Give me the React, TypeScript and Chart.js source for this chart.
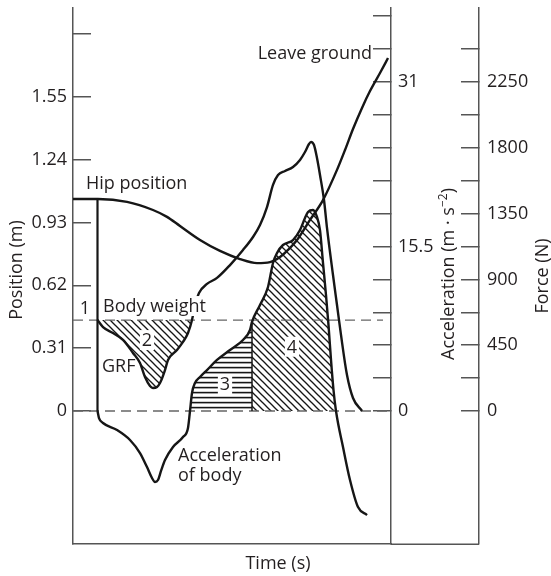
import React, { useEffect, useRef } from "react";
import { Chart, registerables } from "chart.js";
Chart.register(...registerables);

// ---------- data (time in arbitrary units, no ticks on the time axis) ----------
const TIME_MAX = 318;

const HIP_TIME = [0, 25, 54, 80, 94, 107, 127, 147, 167, 184, 197, 207, 215, 224, 237, 250, 264, 272, 280, 289, 297, 307, 315];
const HIP_POSITION = [1.046, 1.046, 1.032, 0.992, 0.958, 0.913, 0.844, 0.79, 0.75, 0.73, 0.735, 0.76, 0.795, 0.844, 0.943, 1.041, 1.19, 1.288, 1.392, 1.496, 1.579, 1.668, 1.742];

const GRF_TIME = [24.5, 30, 40, 50, 60, 67, 72, 77, 80, 84, 87, 92, 95, 104, 110, 115, 119, 122, 126, 134, 144, 157, 170, 180, 187, 194, 200, 205, 212, 220, 227, 232, 236, 238, 241, 244, 247, 251, 254, 260, 264, 268, 274, 280, 289];
const GRF_FORCE = [622, 574, 533, 486, 397, 328, 233, 171, 157, 164, 191, 280, 349, 417, 472, 533, 622, 725, 807, 869, 910, 998, 1101, 1190, 1272, 1395, 1546, 1614, 1641, 1669, 1717, 1771, 1826, 1840, 1819, 1730, 1614, 1443, 1252, 930, 725, 520, 246, 89, 0];

const ACC_TIME = [24.5, 26, 30, 44, 57, 67, 74, 79, 82, 85, 88, 92, 100, 110, 115, 117, 119, 122, 127, 134, 144, 157, 170, 177, 179, 187, 195, 200, 204, 210, 220, 227, 232, 235, 240, 244, 247, 250, 253, 255.5, 258, 260.5, 263, 270, 277, 285, 294];
const ACC_VALUE = [0, -0.66, -1.13, -1.79, -2.73, -3.96, -5.28, -6.31, -6.69, -6.5, -5.65, -4.62, -3.39, -2.45, -1.6, 0, 1.7, 2.64, 3.2, 3.86, 4.81, 5.75, 6.69, 7.63, 8.39, 9.99, 11.68, 13.95, 14.89, 15.64, 16.11, 17.05, 18.19, 18.75, 18.94, 18.28, 17.05, 13.95, 10.93, 8.1, 4.81, 1.98, 0, -3.39, -6.5, -9.05, -9.8];

const BODY_WEIGHT = 622;
const BODY_WEIGHT_END = 310;
const ONSET_TIME = [24.5, 24.5];
const ONSET_POSITION = [1.046, 0];
const AREA2_RANGE = [24.5, 119];
const AREA3_RANGE = [117, 179];
const AREA4_RANGE = [179, 263];
const SPLIT_TIME = [179, 179];
const SPLIT_ACC = [0, 8.39];

const POSITION_TICKS = [0, 0.31, 0.62, 0.93, 1.24, 1.55, 1.86];
const POSITION_LABELS = ["0", "0.31", "0.62", "0.93", "1.24", "1.55", ""];
const ACC_TICKS = [0, 3.1, 6.2, 9.3, 12.4, 15.5, 18.6, 21.7, 24.8, 27.9, 31, 34.1, 37.2];
const ACC_LABELS = ["0", "", "", "", "", "15.5", "", "", "", "", "31", "", ""];
const FORCE_TICKS = [0, 225, 450, 675, 900, 1125, 1350, 1575, 1800, 2025, 2250, 2475];
const FORCE_LABELS = ["0", "", "450", "", "900", "", "1350", "", "1800", "", "2250", ""];

const POSITION_RANGE = [-0.6565, 1.989];
const ACC_RANGE = [-12.53, 37.97];
const FORCE_RANGE = [-909.6, 2756];

const ANNOTATIONS = [
  { text: "Hip position", t: 13, pos: 1.125, align: "left", knockout: false },
  { text: "1", t: 12, pos: 0.511, align: "center", knockout: false },
  { text: "Body weight", t: 30, pos: 0.518, align: "left", knockout: true },
  { text: "2", t: 74, pos: 0.35, align: "center", knockout: true },
  { text: "GRF", t: 29, pos: 0.222, align: "left", knockout: false },
  { text: "3", t: 152, pos: 0.133, align: "center", knockout: true },
  { text: "4", t: 219, pos: 0.317, align: "center", knockout: true },
  { text: "Acceleration", t: 105, pos: -0.217, align: "left", knockout: false },
  { text: "of body", t: 105, pos: -0.316, align: "left", knockout: false },
  { text: "Leave ground", t: 299, pos: 1.767, align: "right", knockout: false },
];

// ---------- styles ----------
const FONT = '"Open Sans", sans-serif';
const FS = 18;
const TEXT = "#231f20";
const AXIS = "#555555";
const INK = "#161616";
const CAP = 6.4;

const zip = (xs: number[], ys: number[]) => xs.map((x, i) => ({ x, y: ys[i] }));
const slice = (xs: number[], ys: number[], r: number[]) =>
  zip(xs, ys).filter((p) => p.x >= r[0] - 1e-9 && p.x <= r[1] + 1e-9);

function diagPattern(ctx: CanvasRenderingContext2D) {
  const s = 7;
  const c = document.createElement("canvas");
  c.width = s;
  c.height = s;
  const g = c.getContext("2d")!;
  g.strokeStyle = INK;
  g.lineWidth = 1.3;
  for (const k of [-1, 0, 1]) {
    g.beginPath();
    g.moveTo(k * s - 1, -1);
    g.lineTo(k * s + s + 1, s + 1);
    g.stroke();
  }
  return ctx.createPattern(c, "repeat")!;
}

function horizPattern(ctx: CanvasRenderingContext2D) {
  const c = document.createElement("canvas");
  c.width = 4;
  c.height = 5;
  const g = c.getContext("2d")!;
  g.fillStyle = INK;
  g.fillRect(0, 1.8, 4, 1.6);
  return ctx.createPattern(c, "repeat")!;
}

const decorPlugin = {
  id: "decor",
  afterDraw(chart: any) {
    const { ctx, chartArea, scales } = chart;
    const x = scales.x, y = scales.y, acc = scales.acc, force = scales.force;
    ctx.save();
    // bottom line continues under the two right axes
    ctx.strokeStyle = AXIS;
    ctx.lineWidth = 1.5;
    ctx.beginPath();
    ctx.moveTo(chartArea.right, chartArea.bottom + 0.25);
    ctx.lineTo(force.left, chartArea.bottom + 0.25);
    ctx.stroke();

    ctx.font = `${FS}px ${FONT}`;
    ctx.textBaseline = "alphabetic";
    ctx.textAlign = "left";
    for (const a of ANNOTATIONS) {
      const px = x.getPixelForValue(a.t);
      const py = y.getPixelForValue(a.pos);
      const w = ctx.measureText(a.text).width;
      const left = a.align === "left" ? px : a.align === "right" ? px - w : px - w / 2;
      if (a.knockout) {
        ctx.fillStyle = "#ffffff";
        ctx.fillRect(left - 2, py - 10, w + 4, 20);
      }
      ctx.fillStyle = TEXT;
      ctx.fillText(a.text, left, py + CAP);
    }

    const midY = (chartArea.top + chartArea.bottom) / 2;
    const vtext = (cx: number, cy: number, parts: { s: string; size: number; dy: number }[]) => {
      ctx.save();
      ctx.translate(cx, cy);
      ctx.rotate(-Math.PI / 2);
      let total = 0;
      const widths = parts.map((p) => {
        ctx.font = `${p.size}px ${FONT}`;
        const w = ctx.measureText(p.s).width;
        total += w;
        return w;
      });
      let cur = -total / 2;
      parts.forEach((p, i) => {
        ctx.font = `${p.size}px ${FONT}`;
        ctx.fillStyle = TEXT;
        ctx.fillText(p.s, cur, CAP + p.dy);
        cur += widths[i];
      });
      ctx.restore();
    };
    vtext(y.left + 16, midY - 6, [{ s: "Position (m)", size: FS, dy: 0 }]);
    vtext(acc.left + 57, midY - 2, [
      { s: "Acceleration (m · s", size: FS, dy: 0 },
      { s: "−2", size: 12, dy: -7 },
      { s: ")", size: FS, dy: 0 },
    ]);
    vtext(force.left + 63, midY, [{ s: "Force (N)", size: FS, dy: 0 }]);

    ctx.font = `${FS}px ${FONT}`;
    ctx.textAlign = "center";
    ctx.fillStyle = TEXT;
    ctx.fillText("Time (s)", (chartArea.left + force.left) / 2 + 2, chartArea.bottom + 19 + CAP);
    ctx.restore();
  },
};

function yAxis(position: string, range: number[], ticks: number[], labels: string[], width: number, padding: number, weight: number) {
  return {
    type: "linear",
    position,
    weight,
    min: range[0],
    max: range[1],
    afterBuildTicks: (s: any) => {
      s.ticks = ticks.map((v) => ({ value: v }));
    },
    afterFit: (s: any) => {
      s.width = width;
      s.paddingTop = 0;
      s.paddingBottom = 0;
    },
    grid: { drawOnChartArea: false, drawTicks: true, tickLength: -18, color: AXIS, lineWidth: 1.5 },
    border: { display: true, color: AXIS, width: 1.5 },
    ticks: {
      autoSkip: false,
      padding,
      color: TEXT,
      font: { family: FONT, size: FS },
      callback: (_v: any, i: number) => labels[i],
    },
  };
}

export default function App() {
  const ref = useRef<HTMLCanvasElement>(null);
  useEffect(() => {
    let chart: Chart | null = null;
    let cancelled = false;
    const build = () => {
      if (cancelled || !ref.current) return;
      const canvas = ref.current;
      const ctx = canvas.getContext("2d")!;
      const diag = diagPattern(ctx);
      const horiz = horizPattern(ctx);
      const curve = { borderColor: INK, borderWidth: 2.4, pointRadius: 0, fill: false, cubicInterpolationMode: "monotone" };
      const straight = { borderColor: INK, borderWidth: 2.2, pointRadius: 0, fill: false, tension: 0 };
      const dashed = { borderColor: "#666666", borderWidth: 1.3, borderDash: [10, 6], pointRadius: 0, fill: false, tension: 0 };
      chart = new Chart(canvas, {
        type: "line",
        data: {
          datasets: [
            { label: "Hip position", data: zip(HIP_TIME, HIP_POSITION), yAxisID: "y", ...curve },
            { label: "GRF", data: zip(GRF_TIME, GRF_FORCE), yAxisID: "force", ...curve },
            { label: "Acceleration of body", data: zip(ACC_TIME, ACC_VALUE), yAxisID: "acc", ...curve },
            { label: "Onset", data: zip(ONSET_TIME, ONSET_POSITION), yAxisID: "y", ...straight },
            { label: "Split", data: zip(SPLIT_TIME, SPLIT_ACC), yAxisID: "acc", ...straight, borderWidth: 1.5 },
            { label: "Body weight", data: zip([0, BODY_WEIGHT_END], [BODY_WEIGHT, BODY_WEIGHT]), yAxisID: "force", ...dashed },
            { label: "Zero", data: zip([0, TIME_MAX], [0, 0]), yAxisID: "acc", ...dashed },
            { label: "Area 2", data: slice(GRF_TIME, GRF_FORCE, AREA2_RANGE), yAxisID: "force", pointRadius: 0, borderWidth: 0, borderColor: "rgba(0,0,0,0)", cubicInterpolationMode: "monotone", fill: { value: BODY_WEIGHT }, backgroundColor: diag },
            { label: "Area 3", data: slice(ACC_TIME, ACC_VALUE, AREA3_RANGE), yAxisID: "acc", pointRadius: 0, borderWidth: 0, borderColor: "rgba(0,0,0,0)", cubicInterpolationMode: "monotone", fill: "origin", backgroundColor: horiz },
            { label: "Area 4", data: slice(ACC_TIME, ACC_VALUE, AREA4_RANGE), yAxisID: "acc", pointRadius: 0, borderWidth: 0, borderColor: "rgba(0,0,0,0)", cubicInterpolationMode: "monotone", fill: "origin", backgroundColor: diag },
          ] as any,
        },
        options: {
          responsive: false,
          animation: false,
          events: [],
          layout: { padding: { top: 8, left: 0, right: 0, bottom: 0 } },
          plugins: { legend: { display: false }, tooltip: { enabled: false } },
          scales: {
            x: {
              type: "linear",
              min: 0,
              max: TIME_MAX,
              ticks: { display: false },
              grid: { display: false },
              border: { display: true, color: AXIS, width: 1.5 },
              afterFit: (s: any) => {
                s.height = 32;
                s.paddingLeft = 0;
                s.paddingRight = 0;
              },
            },
            y: yAxis("left", POSITION_RANGE, POSITION_TICKS, POSITION_LABELS, 73, 24, 0),
            acc: yAxis("right", ACC_RANGE, ACC_TICKS, ACC_LABELS, 88, 25, 0),
            force: yAxis("right", FORCE_RANGE, FORCE_TICKS, FORCE_LABELS, 72, 26, 1),
          } as any,
        },
        plugins: [decorPlugin],
      });
    };
    if ((document as any).fonts && (document as any).fonts.load) {
      (document as any).fonts.load(`${FS}px "Open Sans"`).then(build, build);
    } else build();
    return () => {
      cancelled = true;
      if (chart) chart.destroy();
    };
  }, []);
  return (
    <div style={{ position: "fixed", left: 0, top: 0, width: 551, height: 576, background: "#ffffff" }}>
      <canvas ref={ref} width={551} height={576} style={{ display: "block", width: 551, height: 576 }} />
    </div>
  );
}
